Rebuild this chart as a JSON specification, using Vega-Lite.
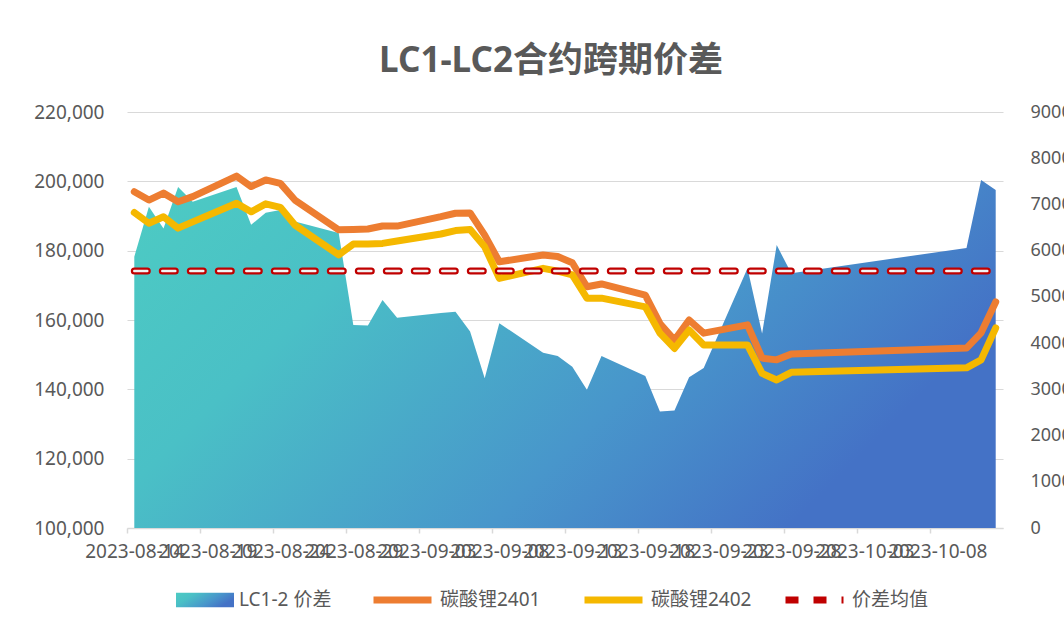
{
  "$schema": "https://vega.github.io/schema/vega-lite/v6.json",
  "width": 876,
  "height": 416,
  "autosize": {"type": "none"},
  "padding": {"left": 127, "top": 112, "right": 61, "bottom": 107},
  "background": "white",
  "config": {
    "view": {"stroke": null},
    "font": "Noto Sans",
    "legend": {
      "orient": "none",
      "direction": "horizontal",
      "padding": 0,
      "symbolSize": 3364,
      "clipHeight": 20,
      "labelFont": "Noto Sans, Noto Sans CJK SC",
      "labelFontSize": 19,
      "labelColor": "#595959",
      "labelOffset": 5,
      "symbolOpacity": 1
    }
  },
  "title": {
    "text": "LC1-LC2合约跨期价差",
    "font": "Noto Sans, Noto Sans CJK SC",
    "fontSize": 35,
    "fontWeight": "bold",
    "color": "#595959",
    "anchor": "middle",
    "dx": -14,
    "offset": 24
  },
  "datasets": {
    "spread": [
      {"date": "2023-08-14", "spread": 5870},
      {"date": "2023-08-15", "spread": 6950},
      {"date": "2023-08-16", "spread": 6480},
      {"date": "2023-08-17", "spread": 7380},
      {"date": "2023-08-18", "spread": 7060},
      {"date": "2023-08-21", "spread": 7380},
      {"date": "2023-08-22", "spread": 6560},
      {"date": "2023-08-23", "spread": 6820},
      {"date": "2023-08-24", "spread": 6880},
      {"date": "2023-08-25", "spread": 6630},
      {"date": "2023-08-28", "spread": 6380},
      {"date": "2023-08-29", "spread": 4390},
      {"date": "2023-08-30", "spread": 4380},
      {"date": "2023-08-31", "spread": 4930},
      {"date": "2023-09-01", "spread": 4550},
      {"date": "2023-09-04", "spread": 4650},
      {"date": "2023-09-05", "spread": 4680},
      {"date": "2023-09-06", "spread": 4250},
      {"date": "2023-09-07", "spread": 3240},
      {"date": "2023-09-08", "spread": 4430},
      {"date": "2023-09-11", "spread": 3790},
      {"date": "2023-09-12", "spread": 3720},
      {"date": "2023-09-13", "spread": 3490},
      {"date": "2023-09-14", "spread": 2990},
      {"date": "2023-09-15", "spread": 3720},
      {"date": "2023-09-18", "spread": 3290},
      {"date": "2023-09-19", "spread": 2520},
      {"date": "2023-09-20", "spread": 2540},
      {"date": "2023-09-21", "spread": 3260},
      {"date": "2023-09-22", "spread": 3460},
      {"date": "2023-09-25", "spread": 5620},
      {"date": "2023-09-26", "spread": 4210},
      {"date": "2023-09-27", "spread": 6120},
      {"date": "2023-09-28", "spread": 5510},
      {"date": "2023-10-10", "spread": 6060},
      {"date": "2023-10-11", "spread": 7530},
      {"date": "2023-10-12", "spread": 7310}
    ],
    "prices": [
      {"date": "2023-08-14", "series": "碳酸锂2401", "price": 197000},
      {"date": "2023-08-15", "series": "碳酸锂2401", "price": 194600},
      {"date": "2023-08-16", "series": "碳酸锂2401", "price": 196600},
      {"date": "2023-08-17", "series": "碳酸锂2401", "price": 194100},
      {"date": "2023-08-18", "series": "碳酸锂2401", "price": 195600},
      {"date": "2023-08-21", "series": "碳酸锂2401", "price": 201500},
      {"date": "2023-08-22", "series": "碳酸锂2401", "price": 198500},
      {"date": "2023-08-23", "series": "碳酸锂2401", "price": 200400},
      {"date": "2023-08-24", "series": "碳酸锂2401", "price": 199400},
      {"date": "2023-08-25", "series": "碳酸锂2401", "price": 194600},
      {"date": "2023-08-28", "series": "碳酸锂2401", "price": 186000},
      {"date": "2023-08-29", "series": "碳酸锂2401", "price": 186100},
      {"date": "2023-08-30", "series": "碳酸锂2401", "price": 186250},
      {"date": "2023-08-31", "series": "碳酸锂2401", "price": 187100},
      {"date": "2023-09-01", "series": "碳酸锂2401", "price": 187100},
      {"date": "2023-09-04", "series": "碳酸锂2401", "price": 189800},
      {"date": "2023-09-05", "series": "碳酸锂2401", "price": 190800},
      {"date": "2023-09-06", "series": "碳酸锂2401", "price": 190900},
      {"date": "2023-09-07", "series": "碳酸锂2401", "price": 184500},
      {"date": "2023-09-08", "series": "碳酸锂2401", "price": 176800},
      {"date": "2023-09-11", "series": "碳酸锂2401", "price": 178750},
      {"date": "2023-09-12", "series": "碳酸锂2401", "price": 178300},
      {"date": "2023-09-13", "series": "碳酸锂2401", "price": 176500},
      {"date": "2023-09-14", "series": "碳酸锂2401", "price": 169600},
      {"date": "2023-09-15", "series": "碳酸锂2401", "price": 170400},
      {"date": "2023-09-18", "series": "碳酸锂2401", "price": 167200},
      {"date": "2023-09-19", "series": "碳酸锂2401", "price": 159000},
      {"date": "2023-09-20", "series": "碳酸锂2401", "price": 154200},
      {"date": "2023-09-21", "series": "碳酸锂2401", "price": 160000},
      {"date": "2023-09-22", "series": "碳酸锂2401", "price": 156200},
      {"date": "2023-09-25", "series": "碳酸锂2401", "price": 158600},
      {"date": "2023-09-26", "series": "碳酸锂2401", "price": 149000},
      {"date": "2023-09-27", "series": "碳酸锂2401", "price": 148500},
      {"date": "2023-09-28", "series": "碳酸锂2401", "price": 150200},
      {"date": "2023-10-10", "series": "碳酸锂2401", "price": 151900},
      {"date": "2023-10-11", "series": "碳酸锂2401", "price": 156300},
      {"date": "2023-10-12", "series": "碳酸锂2401", "price": 165200},
      {"date": "2023-08-14", "series": "碳酸锂2402", "price": 191000},
      {"date": "2023-08-15", "series": "碳酸锂2402", "price": 187900},
      {"date": "2023-08-16", "series": "碳酸锂2402", "price": 189800},
      {"date": "2023-08-17", "series": "碳酸锂2402", "price": 186500},
      {"date": "2023-08-18", "series": "碳酸锂2402", "price": 188300},
      {"date": "2023-08-21", "series": "碳酸锂2402", "price": 193700},
      {"date": "2023-08-22", "series": "碳酸锂2402", "price": 191200},
      {"date": "2023-08-23", "series": "碳酸锂2402", "price": 193500},
      {"date": "2023-08-24", "series": "碳酸锂2402", "price": 192500},
      {"date": "2023-08-25", "series": "碳酸锂2402", "price": 187400},
      {"date": "2023-08-28", "series": "碳酸锂2402", "price": 178800},
      {"date": "2023-08-29", "series": "碳酸锂2402", "price": 181900},
      {"date": "2023-08-30", "series": "碳酸锂2402", "price": 181900},
      {"date": "2023-08-31", "series": "碳酸锂2402", "price": 182100},
      {"date": "2023-09-01", "series": "碳酸锂2402", "price": 182800},
      {"date": "2023-09-04", "series": "碳酸锂2402", "price": 184800},
      {"date": "2023-09-05", "series": "碳酸锂2402", "price": 185800},
      {"date": "2023-09-06", "series": "碳酸锂2402", "price": 186100},
      {"date": "2023-09-07", "series": "碳酸锂2402", "price": 181100},
      {"date": "2023-09-08", "series": "碳酸锂2402", "price": 172000},
      {"date": "2023-09-11", "series": "碳酸锂2402", "price": 174900},
      {"date": "2023-09-12", "series": "碳酸锂2402", "price": 174100},
      {"date": "2023-09-13", "series": "碳酸锂2402", "price": 173000},
      {"date": "2023-09-14", "series": "碳酸锂2402", "price": 166300},
      {"date": "2023-09-15", "series": "碳酸锂2402", "price": 166300},
      {"date": "2023-09-18", "series": "碳酸锂2402", "price": 163800},
      {"date": "2023-09-19", "series": "碳酸锂2402", "price": 156200},
      {"date": "2023-09-20", "series": "碳酸锂2402", "price": 151800},
      {"date": "2023-09-21", "series": "碳酸锂2402", "price": 157100},
      {"date": "2023-09-22", "series": "碳酸锂2402", "price": 152800},
      {"date": "2023-09-25", "series": "碳酸锂2402", "price": 152800},
      {"date": "2023-09-26", "series": "碳酸锂2402", "price": 144600},
      {"date": "2023-09-27", "series": "碳酸锂2402", "price": 142700},
      {"date": "2023-09-28", "series": "碳酸锂2402", "price": 144900},
      {"date": "2023-10-10", "series": "碳酸锂2402", "price": 146200},
      {"date": "2023-10-11", "series": "碳酸锂2402", "price": 148500},
      {"date": "2023-10-12", "series": "碳酸锂2402", "price": 157700}
    ],
    "mean": [
      {"date": "2023-08-14", "series": "价差均值", "value": 5560},
      {"date": "2023-08-21", "series": "价差均值", "value": 5560},
      {"date": "2023-08-28", "series": "价差均值", "value": 5560},
      {"date": "2023-09-04", "series": "价差均值", "value": 5560},
      {"date": "2023-09-11", "series": "价差均值", "value": 5560},
      {"date": "2023-09-18", "series": "价差均值", "value": 5560},
      {"date": "2023-09-25", "series": "价差均值", "value": 5560},
      {"date": "2023-10-10", "series": "价差均值", "value": 5560},
      {"date": "2023-10-12", "series": "价差均值", "value": 5560}
    ]
  },
  "encoding": {
    "x": {
      "field": "date",
      "type": "temporal",
      "scale": {
        "type": "utc",
        "domain": [
          {"year": 2023, "month": 8, "date": 13, "hours": 12, "utc": true},
          {"year": 2023, "month": 10, "date": 12, "hours": 12, "utc": true}
        ]
      },
      "axis": {
        "title": null,
        "grid": false,
        "values": [
          {"year": 2023, "month": 8, "date": 14, "utc": true},
          {"year": 2023, "month": 8, "date": 19, "utc": true},
          {"year": 2023, "month": 8, "date": 24, "utc": true},
          {"year": 2023, "month": 8, "date": 29, "utc": true},
          {"year": 2023, "month": 9, "date": 3, "utc": true},
          {"year": 2023, "month": 9, "date": 8, "utc": true},
          {"year": 2023, "month": 9, "date": 13, "utc": true},
          {"year": 2023, "month": 9, "date": 18, "utc": true},
          {"year": 2023, "month": 9, "date": 23, "utc": true},
          {"year": 2023, "month": 9, "date": 28, "utc": true},
          {"year": 2023, "month": 10, "date": 3, "utc": true},
          {"year": 2023, "month": 10, "date": 8, "utc": true}
        ],
        "labelExpr": "utcFormat(datum.value, '%Y-%m-%d')",
        "labelOverlap": false,
        "labelFlush": false,
        "labelBound": false,
        "tickOffset": -7.3,
        "labelOffset": 7.3,
        "tickSize": 5,
        "tickColor": "#D9D9D9",
        "tickWidth": 1.5,
        "domainColor": "#D9D9D9",
        "domainWidth": 1.5,
        "labelPadding": 9,
        "labelFontSize": 19,
        "labelColor": "#595959"
      }
    }
  },
  "layer": [
    {
      "data": {"name": "spread"},
      "mark": {
        "type": "area",
        "color": {
          "gradient": "linear",
          "x1": 0, "y1": 0, "x2": 1, "y2": 0.4,
          "stops": [
            {"offset": 0, "color": "#4DCBC3"},
            {"offset": 0.3, "color": "#4AC0C6"},
            {"offset": 0.7, "color": "#4896CB"},
            {"offset": 1, "color": "#4472C6"}
          ]
        }
      },
      "encoding": {
        "y": {
          "field": "spread",
          "type": "quantitative",
          "scale": {"domain": [0, 9000], "nice": false, "zero": true},
          "axis": {
            "orient": "right",
            "title": null,
            "values": [0, 1000, 2000, 3000, 4000, 5000, 6000, 7000, 8000, 9000],
            "format": "d",
            "grid": false,
            "domain": false,
            "ticks": false,
            "labelPadding": 27,
            "labelFontSize": 18,
            "labelColor": "#595959"
          }
        },
        "opacity": {
          "datum": "LC1-2 价差",
          "type": "ordinal",
          "scale": {"domain": ["LC1-2 价差"], "range": [1]},
          "legend": {
            "title": null,
            "legendX": 49,
            "legendY": 478,
            "symbolType": "M-1,-0.25H1V0.25H-1Z",
            "symbolStrokeWidth": 0
          }
        }
      }
    },
    {
      "data": {"name": "prices"},
      "mark": {"type": "line", "strokeWidth": 7, "strokeJoin": "round", "strokeCap": "round"},
      "encoding": {
        "y": {
          "field": "price",
          "type": "quantitative",
          "scale": {"domain": [100000, 220000], "nice": false, "zero": false},
          "axis": {
            "orient": "left",
            "title": null,
            "values": [100000, 120000, 140000, 160000, 180000, 200000, 220000],
            "format": ",d",
            "grid": true,
            "gridColor": "#D9D9D9",
            "gridWidth": 1.2,
            "domain": false,
            "ticks": false,
            "labelPadding": 23,
            "labelFontSize": 19,
            "labelColor": "#595959"
          }
        },
        "color": {
          "field": "series",
          "type": "nominal",
          "scale": {
            "domain": ["碳酸锂2401", "碳酸锂2402"],
            "range": ["#ED7D31", "#F5B800"]
          },
          "legend": {
            "title": null,
            "legendX": 243,
            "legendY": 478,
            "columns": 2,
            "columnPadding": 40,
            "symbolType": "stroke",
            "symbolStrokeWidth": 7
          }
        }
      }
    },
    {
      "data": {"name": "mean"},
      "encoding": {
        "y": {
          "field": "value",
          "type": "quantitative",
          "scale": {"domain": [0, 9000], "nice": false, "zero": true},
          "axis": null
        }
      },
      "layer": [
        {
          "mark": {"type": "line", "color": "#C00000", "strokeWidth": 7, "strokeCap": "round"},
          "encoding": {
            "strokeDash": {
              "field": "series",
              "type": "nominal",
              "scale": {"domain": ["价差均值"], "range": [[13, 15]]},
              "legend": {
                "title": null,
                "legendX": 655,
                "legendY": 478,
                "symbolType": "stroke",
                "symbolStrokeWidth": 7,
                "symbolStrokeColor": "#C00000"
              }
            }
          }
        },
        {
          "mark": {"type": "line", "strokeWidth": 2.5, "strokeDash": [13, 15], "strokeCap": "round", "color": "#F2F2F2"}
        }
      ]
    }
  ],
  "resolve": {"scale": {"y": "independent"}}
}
